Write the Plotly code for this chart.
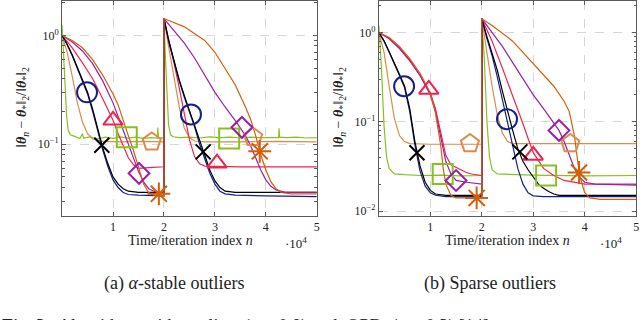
import plotly.graph_objects as go

# ---- data: (iteration n, relative error) ----
# panel (a): alpha-stable outliers
a_blue = [(0, 1.0), (1000, 0.82), (2000, 0.65), (3000, 0.5), (4000, 0.38), (5000, 0.29), (6000, 0.2),
          (7000, 0.13), (8000, 0.088), (9000, 0.062), (10000, 0.047), (11000, 0.04), (12000, 0.036),
          (13000, 0.0345), (15000, 0.034), (19999, 0.0335), (20000, 1.43), (21000, 0.85), (22000, 0.55),
          (23000, 0.38), (24000, 0.27), (25000, 0.2), (26000, 0.145), (27000, 0.1), (28000, 0.073),
          (29000, 0.054), (30000, 0.043), (31000, 0.037), (32000, 0.035), (34000, 0.034), (40000, 0.0335),
          (50000, 0.033)]
a_black = [(0, 1.0), (1000, 0.83), (2000, 0.66), (3000, 0.51), (4000, 0.39), (5000, 0.3), (6000, 0.21),
           (7000, 0.135), (8000, 0.092), (9000, 0.066), (10000, 0.05), (11000, 0.043), (12000, 0.039),
           (13000, 0.037), (15000, 0.036), (19999, 0.036), (20000, 1.43), (21000, 0.87), (22000, 0.57),
           (23000, 0.39), (24000, 0.28), (25000, 0.205), (26000, 0.15), (27000, 0.105), (28000, 0.077),
           (29000, 0.058), (30000, 0.046), (31000, 0.04), (32000, 0.037), (34000, 0.036), (50000, 0.036)]
a_red = [(0, 1.0), (2000, 0.77), (4000, 0.56), (6000, 0.4), (8000, 0.26), (10000, 0.166), (11000, 0.125),
         (12000, 0.095), (13000, 0.075), (14000, 0.065), (15000, 0.06), (17000, 0.061), (19999, 0.062),
         (20000, 1.43), (21000, 0.9), (22000, 0.55), (23000, 0.33), (24000, 0.19), (25000, 0.11),
         (26000, 0.077), (27000, 0.066), (28000, 0.063), (35000, 0.062), (50000, 0.062)]
a_green = [(0, 1.25), (300, 0.6), (600, 0.3), (900, 0.18), (1200, 0.135), (1600, 0.122), (2500, 0.118),
           (3500, 0.113), (4000, 0.125), (4200, 0.114), (5500, 0.117), (7000, 0.112), (8500, 0.116),
           (10000, 0.113), (11500, 0.117), (13000, 0.114), (14500, 0.116), (16000, 0.113), (17500, 0.115),
           (18700, 0.114), (18800, 0.142), (18900, 0.115), (19999, 0.114), (20000, 1.43), (20300, 0.6),
           (20600, 0.25), (20900, 0.15), (21300, 0.122), (21800, 0.117), (23000, 0.115), (25000, 0.116),
           (27000, 0.114), (29000, 0.117), (31000, 0.115), (33000, 0.116), (35000, 0.114), (37000, 0.116),
           (39000, 0.115), (41000, 0.116), (42500, 0.115), (42600, 0.14), (42700, 0.116), (44000, 0.115),
           (46000, 0.116), (48000, 0.114), (50000, 0.115)]
a_tan = [(0, 1.0), (1000, 0.7), (2000, 0.42), (3000, 0.24), (4000, 0.16), (5000, 0.125), (6000, 0.112),
         (8000, 0.106), (12000, 0.105), (16000, 0.106), (19999, 0.105), (20000, 1.43), (21000, 0.75),
         (22000, 0.4), (23000, 0.22), (24000, 0.14), (25000, 0.115), (26000, 0.107), (28000, 0.105),
         (35000, 0.105), (42000, 0.106), (50000, 0.105)]
a_purple = [(0, 1.0), (2000, 0.87), (4000, 0.72), (6000, 0.55), (8000, 0.38), (10000, 0.24), (11000, 0.18),
            (12000, 0.135), (13000, 0.1), (14000, 0.075), (15000, 0.056), (16000, 0.045), (17000, 0.039),
            (18000, 0.037), (19999, 0.036), (20000, 1.43), (22000, 1.1), (24000, 0.85), (26000, 0.62),
            (28000, 0.43), (30000, 0.3), (32000, 0.22), (34000, 0.165), (36000, 0.12), (37000, 0.097),
            (38000, 0.075), (39000, 0.058), (40000, 0.047), (41000, 0.041), (42000, 0.038), (44000, 0.036),
            (50000, 0.036)]
a_orange = [(0, 1.0), (2000, 0.9), (4000, 0.77), (6000, 0.6), (8000, 0.43), (10000, 0.29), (11000, 0.23),
            (12000, 0.17), (13000, 0.12), (14000, 0.088), (15000, 0.06), (16000, 0.043), (17000, 0.036),
            (18000, 0.034), (19999, 0.0335), (20000, 1.43), (24000, 1.2), (28000, 0.9), (30000, 0.7),
            (32000, 0.5), (34000, 0.35), (36000, 0.22), (37000, 0.17), (38000, 0.12), (39000, 0.08),
            (40000, 0.058), (41000, 0.045), (42000, 0.039), (43000, 0.036), (45000, 0.035), (50000, 0.035)]

# marker positions in panel (a)
a_marks = {
    "blue": [(4900, 0.30), (25300, 0.188)],
    "black": [(7800, 0.098), (27700, 0.085)],
    "red": [(10000, 0.166), (30400, 0.067)],
    "green": [(12700, 0.116), (32800, 0.113)],
    "tan": [(17600, 0.105), (37500, 0.116)],
    "purple": [(15100, 0.054), (35300, 0.143)],
    "orange": [(19000, 0.035), (38800, 0.086)],
}

# panel (b): sparse outliers
b_blue = [(0, 1.0), (1000, 0.8), (2000, 0.6), (3000, 0.45), (4000, 0.33), (5000, 0.24), (6000, 0.13),
          (7000, 0.055), (8000, 0.028), (9000, 0.019), (10000, 0.016), (11000, 0.015), (13000, 0.0145),
          (19999, 0.0145), (20000, 1.43), (21000, 0.85), (22000, 0.55), (23000, 0.32), (24000, 0.18),
          (25000, 0.1), (26000, 0.055), (27000, 0.03), (28000, 0.02), (29000, 0.016), (30000, 0.0148),
          (32000, 0.0145), (50000, 0.0145)]
b_black = [(0, 1.0), (1000, 0.81), (2000, 0.61), (3000, 0.46), (4000, 0.34), (5000, 0.25), (6000, 0.14),
           (7000, 0.06), (8000, 0.032), (9000, 0.021), (10000, 0.017), (11000, 0.0155), (13000, 0.015),
           (19999, 0.015), (20000, 1.43), (21000, 0.9), (22000, 0.6), (23000, 0.38), (24000, 0.22),
           (25000, 0.13), (26000, 0.08), (27000, 0.05), (28000, 0.036), (29000, 0.029), (30000, 0.024),
           (31000, 0.02), (32000, 0.018), (33000, 0.0165), (34000, 0.0155), (35000, 0.015), (50000, 0.015)]
b_red = [(0, 1.0), (2000, 0.85), (4000, 0.66), (6000, 0.48), (8000, 0.33), (10000, 0.21), (11000, 0.14),
         (12000, 0.075), (13000, 0.042), (14000, 0.033), (15000, 0.031), (16000, 0.029), (17000, 0.027),
         (18000, 0.026), (19999, 0.025), (20000, 1.43), (22000, 0.8), (24000, 0.4), (26000, 0.2),
         (28000, 0.095), (29000, 0.065), (30000, 0.045), (32000, 0.03), (34000, 0.025), (36000, 0.022),
         (38000, 0.021), (40000, 0.02), (50000, 0.02)]
b_green = [(0, 1.2), (500, 0.4), (1000, 0.09), (1500, 0.04), (2000, 0.03), (3000, 0.026), (5000, 0.0255),
           (8000, 0.025), (12000, 0.0252), (16000, 0.0248), (19999, 0.025), (20000, 1.43), (20500, 0.5),
           (21000, 0.1), (21500, 0.04), (22000, 0.029), (23000, 0.026), (30000, 0.0252), (40000, 0.0248),
           (50000, 0.025)]
b_tan = [(0, 1.0), (1000, 0.6), (2000, 0.25), (3000, 0.11), (4000, 0.07), (5000, 0.06), (6000, 0.057),
         (10000, 0.056), (15000, 0.056), (19999, 0.056), (20000, 1.43), (21000, 0.6), (22000, 0.25),
         (23000, 0.12), (24000, 0.075), (25000, 0.06), (26000, 0.057), (35000, 0.057), (50000, 0.057)]
b_purple = [(0, 1.0), (2000, 0.86), (4000, 0.67), (6000, 0.49), (8000, 0.33), (10000, 0.2), (11000, 0.13),
            (12000, 0.07), (13000, 0.036), (14000, 0.026), (15000, 0.022), (17000, 0.021), (19999, 0.02),
            (20000, 1.43), (22000, 1.0), (24000, 0.7), (26000, 0.46), (28000, 0.3), (30000, 0.2),
            (32000, 0.14), (34000, 0.095), (35000, 0.08), (36000, 0.06), (37000, 0.042), (38000, 0.03),
            (39000, 0.024), (40000, 0.021), (42000, 0.02), (50000, 0.0195)]
b_orange = [(0, 1.0), (2000, 0.88), (4000, 0.7), (6000, 0.51), (8000, 0.35), (10000, 0.21), (11000, 0.125),
            (12000, 0.055), (12500, 0.03), (13000, 0.02), (14000, 0.015), (15000, 0.014), (19999, 0.014),
            (20000, 1.43), (22000, 1.2), (24000, 0.98), (26000, 0.8), (28000, 0.6), (30000, 0.45),
            (32000, 0.33), (34000, 0.25), (36000, 0.17), (37000, 0.13), (38000, 0.07), (38500, 0.04),
            (39000, 0.025), (40000, 0.016), (41000, 0.014), (43000, 0.0135), (50000, 0.0135)]

b_marks = {
    "blue": [(4900, 0.25), (24900, 0.107)],
    "black": [(7400, 0.045), (27400, 0.046)],
    "red": [(9700, 0.23), (30000, 0.042)],
    "green": [(12400, 0.026), (32500, 0.025)],
    "tan": [(17700, 0.057), (37200, 0.057)],
    "purple": [(15000, 0.022), (35000, 0.08)],
    "orange": [(19000, 0.014), (38900, 0.027)],
}

x_ticks = [10000, 20000, 30000, 40000, 50000]
x_tick_text = ["1", "2", "3", "4", "5"]

# ---- styles ----
colors = {"blue": "#15208c", "black": "#000000", "red": "#f2224f", "green": "#86c21f",
          "tan": "#d98c4c", "purple": "#9b1fa6", "orange": "#d45e0c"}
symbols = {"blue": "circle-open", "black": "x-thin-open", "red": "triangle-up-open",
           "green": "square-open", "tan": "pentagon-open", "purple": "diamond-open",
           "orange": "asterisk-open"}
sizes = {"blue": 20, "black": 15, "red": 17, "green": 20, "tan": 19, "purple": 16, "orange": 19}
order = ["green", "tan", "red", "blue", "black", "purple", "orange"]

SERIF = "Liberation Serif"

fig = go.Figure()

panels = [
    ("x", "y", {"blue": a_blue, "black": a_black, "red": a_red, "green": a_green, "tan": a_tan,
                "purple": a_purple, "orange": a_orange}, a_marks),
    ("x2", "y2", {"blue": b_blue, "black": b_black, "red": b_red, "green": b_green, "tan": b_tan,
                  "purple": b_purple, "orange": b_orange}, b_marks),
]

for xa, ya, curves, marks in panels:
    for name in order:
        pts = curves[name]
        fig.add_trace(go.Scatter(
            x=[p[0] for p in pts], y=[p[1] for p in pts], mode="lines",
            line=dict(color=colors[name], width=1.2), xaxis=xa, yaxis=ya,
            showlegend=False, hoverinfo="skip"))
    for name in order:
        pts = marks[name]
        fig.add_trace(go.Scatter(
            x=[p[0] for p in pts], y=[p[1] for p in pts], mode="markers",
            marker=dict(symbol=symbols[name], size=sizes[name], color=colors[name],
                        line=dict(color=colors[name], width=2)),
            xaxis=xa, yaxis=ya, showlegend=False, hoverinfo="skip", cliponaxis=False))

axis_common = dict(showline=True, linecolor="#5a5a5a", linewidth=1, mirror="ticks",
                   ticks="inside", tickcolor="#5a5a5a", ticklen=4, automargin=False,
                   showgrid=True, gridcolor="#d6d6d6", griddash="dash", gridwidth=0.8,
                   zeroline=False, tickfont=dict(family=SERIF, size=12, color="#222"))

minor_a = [k * 10.0 ** e for e in (-2, -1, 0) for k in range(2, 10) if 0.02 < k * 10.0 ** e < 2.1]
minor_b = [k * 10.0 ** e for e in (-3, -2, -1, 0) for k in range(2, 10) if 0.0087 < k * 10.0 ** e < 2.3]

fig.update_layout(
    width=640, height=320,
    margin=dict(l=0, r=0, t=0, b=0, pad=0),
    plot_bgcolor="white", paper_bgcolor="white",
    xaxis=dict(domain=[0.097, 0.495], range=[0, 50000], tickvals=x_ticks, ticktext=x_tick_text,
               anchor="y", **axis_common),
    yaxis=dict(domain=[0.325, 0.998], type="log", range=[-1.66, 0.32],
               tickvals=[0.1, 1], ticktext=["10<sup>\u22121</sup>", "10<sup>0</sup>"], anchor="x",
               minor=dict(tickvals=minor_a, ticks="inside", ticklen=2.5, tickcolor="#5a5a5a", showgrid=False),
               **axis_common),
    xaxis2=dict(domain=[0.592, 0.994], range=[0, 50000], tickvals=x_ticks, ticktext=x_tick_text,
                anchor="y2", **axis_common),
    yaxis2=dict(domain=[0.325, 0.998], type="log", range=[-2.056, 0.357],
                tickvals=[0.01, 0.1, 1],
                ticktext=["10<sup>\u22122</sup>", "10<sup>\u22121</sup>", "10<sup>0</sup>"], anchor="x2",
                minor=dict(tickvals=minor_b, ticks="inside", ticklen=2.5, tickcolor="#5a5a5a", showgrid=False),
                **axis_common),
)

ylabel = ("\u2016<b><i>\u03b8</i></b><sub><i>n</i></sub> \u2212 <b><i>\u03b8</i></b><sub>*</sub>\u2016<sub>2</sub>"
          "/\u2016<b><i>\u03b8</i></b><sub>*</sub>\u2016<sub>2</sub>")


def note(xp, yp, text, size, **kw):
    # place a text at a pixel position of the 640x320 canvas
    d = dict(x=xp / 640, y=1 - yp / 320, xref="paper", yref="paper", text=text, showarrow=False,
             xanchor="center", yanchor="middle", font=dict(family=SERIF, size=size, color="#222"))
    d.update(kw)
    return d


ann = []
for xc, xt, xe in [(22, 190, 296), (339, 507, 611)]:
    ann.append(note(xc, 108, ylabel, 14, textangle=-90))
    ann.append(note(xt, 240, "Time/iteration index <i>n</i>", 14))
    ann.append(note(xe, 243, "\u00b710<sup>4</sup>", 13))

ann.append(note(174, 283, "(a) <i>\u03b1</i>-stable outliers", 18))
ann.append(note(490, 283, "(b) Sparse outliers", 18))
# caption line of the page below, mostly cut off by the bottom edge as in the reference
ann.append(note(0, 314, "<b>Fig. 3</b>:  Algorithms with  outliers (<i>\u03b1</i> = 0.8) and  OPD  (<i>p</i> = 0.3) [14] ...",
                18, xanchor="left", yanchor="top"))

fig.update_layout(annotations=ann)

# the page body has a default 8px margin; drop it so the figure fills the window
fig.write_html("out.html", config={"displayModeBar": False},
               post_script="document.body.style.margin='0px';")
